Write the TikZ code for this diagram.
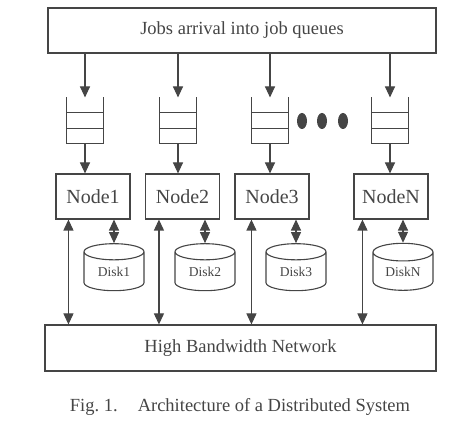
\documentclass[tikz,border=0pt]{standalone}
\usepackage{fontspec}
\setmainfont{Liberation Serif}
\usepackage{xcolor}
\usepackage{tikz}
\usetikzlibrary{arrows.meta,shapes.geometric}
\definecolor{linegray}{HTML}{454545}

\begin{document}
\begin{tikzpicture}[x=1pt,y=-1pt,line width=1.1pt,color=linegray,
  bigtext/.style={font=\fontsize{18.5}{20}\selectfont},
  proc/.style={draw,rectangle,minimum width=74pt,minimum height=45pt,inner sep=0pt,font=\fontsize{20}{22}\selectfont},
  queue/.style={rectangle,minimum width=36pt,minimum height=45pt,inner sep=0pt},
  disk/.style={draw,cylinder,shape border rotate=90,aspect=0.5,minimum width=60pt,
    minimum height=47pt,inner sep=0pt,font=\fontsize{13.5}{15}\selectfont},
  arr/.style={-{Triangle[length=11pt,width=10pt]}},
  dbl/.style={{Triangle[length=11pt,width=10pt]}-{Triangle[length=11pt,width=10pt]}}]
\useasboundingbox (0,0) rectangle (453,422);

% job arrival
\node[draw,minimum width=388pt,minimum height=45pt,bigtext] (jobs) at (242,30.5) {Jobs arrival into job queues};

% job queues
\node[queue] (q1) at (85,120.5) {};
\node[queue] (q2) at (178,120.5) {};
\node[queue] (q3) at (270,120.5) {};
\node[queue] (qN) at (390,120.5) {};
\draw (q1.north west) -- (q1.south west) -- (q1.south east) -- (q1.north east);
\draw ([yshift=-15pt]q1.north west) -- ([yshift=-15pt]q1.north east);
\draw ([yshift=-31pt]q1.north west) -- ([yshift=-31pt]q1.north east);
\draw (q2.north west) -- (q2.south west) -- (q2.south east) -- (q2.north east);
\draw ([yshift=-15pt]q2.north west) -- ([yshift=-15pt]q2.north east);
\draw ([yshift=-31pt]q2.north west) -- ([yshift=-31pt]q2.north east);
\draw (q3.north west) -- (q3.south west) -- (q3.south east) -- (q3.north east);
\draw ([yshift=-15pt]q3.north west) -- ([yshift=-15pt]q3.north east);
\draw ([yshift=-31pt]q3.north west) -- ([yshift=-31pt]q3.north east);
\draw (qN.north west) -- (qN.south west) -- (qN.south east) -- (qN.north east);
\draw ([yshift=-15pt]qN.north west) -- ([yshift=-15pt]qN.north east);
\draw ([yshift=-31pt]qN.north west) -- ([yshift=-31pt]qN.north east);

% dots
\fill (302,121) ellipse [x radius=5,y radius=8];
\fill (322,121) ellipse [x radius=5,y radius=8];
\fill (343,121) ellipse [x radius=5,y radius=8];

% nodes
\node[proc] (n1) at (93,196.5) {Node1};
\node[proc] (n2) at (182.5,196.5) {Node2};
\node[proc] (n3) at (272,196.5) {Node3};
\node[proc] (nN) at (391,196.5) {NodeN};

% disks
\node[disk] (d1) at (114,271.5) {Disk1};
\node[disk] (d2) at (205,271.5) {Disk2};
\node[disk] (d3) at (296,271.5) {Disk3};
\node[disk] (dN) at (403,271.5) {DiskN};

% network
\node[draw,minimum width=391pt,minimum height=46pt,bigtext] (net) at (240.5,348) {High Bandwidth Network};

% caption
\node[bigtext] (cap) at (240,407) {Fig.~1.\hspace{20pt}Architecture of a Distributed System};

% arrivals
\draw[arr] (q1 |- jobs.south) -- (q1.north);
\draw[arr] (q2 |- jobs.south) -- (q2.north);
\draw[arr] (q3 |- jobs.south) -- (q3.north);
\draw[arr] (qN |- jobs.south) -- (qN.north);
\draw[arr] (q1.south) -- (q1.south |- n1.north);
\draw[arr] (q2.south) -- (q2.south |- n2.north);
\draw[arr] (q3.south) -- (q3.south |- n3.north);
\draw[arr] (qN.south) -- (qN.south |- nN.north);

% node <-> disk
\draw[dbl] (n1.south -| d1.north) -- (d1.north);
\draw[dbl] (n2.south -| d2.north) -- (d2.north);
\draw[dbl] (n3.south -| d3.north) -- (d3.north);
\draw[dbl] (nN.south -| dN.north) -- (dN.north);

% node <-> network
\draw[dbl] ([xshift=13pt]n1.south west) -- ([xshift=13pt]n1.south west |- net.north);
\draw[dbl] ([xshift=14pt]n2.south west) -- ([xshift=14pt]n2.south west |- net.north);
\draw[dbl] ([xshift=17pt]n3.south west) -- ([xshift=17pt]n3.south west |- net.north);
\draw[dbl] ([xshift=9pt]nN.south west) -- ([xshift=9pt]nN.south west |- net.north);
\end{tikzpicture}
\end{document}
